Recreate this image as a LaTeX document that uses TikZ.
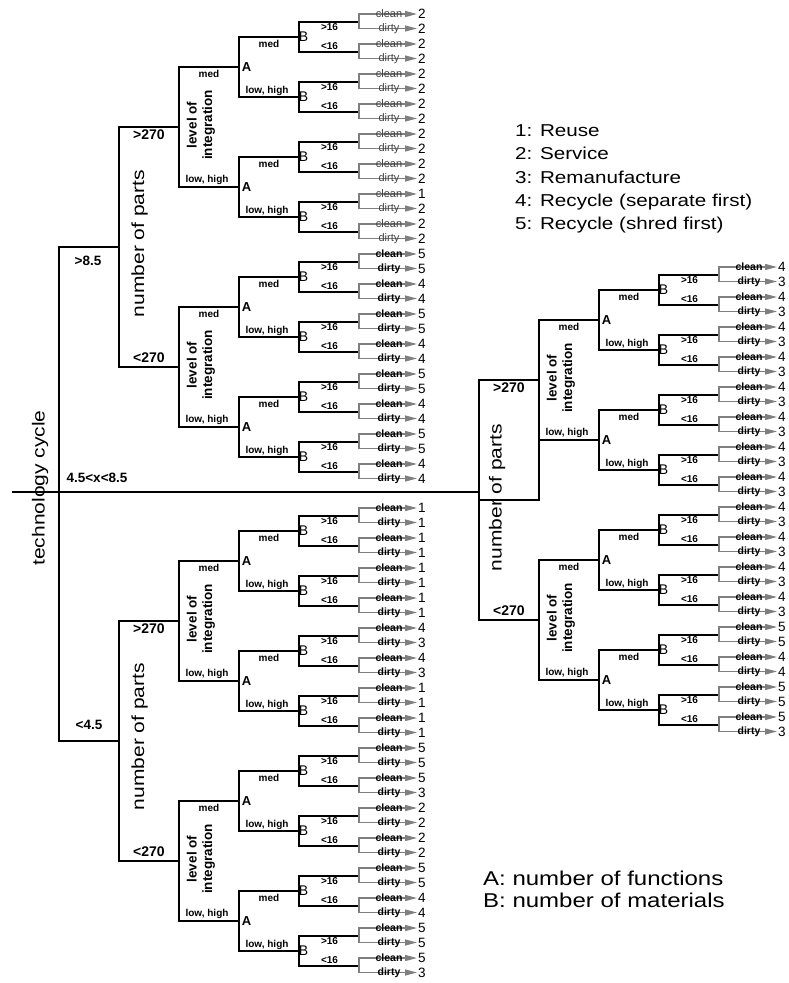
\documentclass[tikz,border=0pt]{standalone}
\usepackage{fontspec}
\setmainfont{Liberation Sans}
\newfontfamily\widefont[FakeStretch=1.2]{Liberation Sans}
\usetikzlibrary{arrows.meta}
\definecolor{leafgray}{HTML}{7F7F7F}
\tikzset{
  tree/.style={line width=1.9pt, draw=black},
  leafline/.style={line width=1.3pt, draw=leafgray, -{Triangle[length=12pt,width=6pt,fill=leafgray]}},
  nplbl/.style={inner sep=0pt, font=\bfseries\fontsize{14}{16}\selectfont},
  rootlbl/.style={inner sep=0pt, font=\bfseries\fontsize{13.5}{15}\selectfont},
  loilbl/.style={inner sep=0pt, rotate=90, align=center, font=\bfseries\fontsize{13.5}{15.5}\selectfont},
  smlbl/.style={inner sep=0pt, font=\bfseries\fontsize{10}{11}\selectfont},
  albl/.style={inner sep=0pt, font=\bfseries\fontsize{13}{14}\selectfont},
  blbl/.style={inner sep=0pt, font=\fontsize{14}{15}\selectfont},
  leafbold/.style={inner sep=0pt, anchor=base, font=\bfseries\fontsize{10.5}{12}\selectfont},
  leaflight/.style={inner sep=0pt, anchor=base, text=black!75, font=\fontsize{11}{12}\selectfont},
  numlbl/.style={inner sep=0pt, anchor=base west, font=\fontsize{13.5}{14}\selectfont},
  bigtxt/.style={inner sep=0pt, font=\widefont\fontsize{17.5}{20}\selectfont},
  legtxt/.style={inner sep=0pt, anchor=base west, font=\widefont\fontsize{17.2}{20}\selectfont},
  legbtxt/.style={inner sep=0pt, anchor=base west, font=\widefont\fontsize{20}{22}\selectfont},
}
% #1 prefix, #2 x0, #3 y0, #4 leaf values, #5 style upper half, #6 style lower half
\newcommand{\drawNP}[6]{%
 \coordinate (#1) at (#2,#3);
 \foreach \a in {0,1}{%
  \pgfmathsetmacro{\ya}{#3+(2*\a-1)*120}%
  \coordinate (#1\a) at (#2+60,\ya);
  \draw[tree] (#1) |- (#1\a);
  \ifnum\a=0
    \node[nplbl] (#1\a-t) at (#2+30,\ya+8) {>270};
    \def\lsty{#5}%
  \else
    \node[nplbl] (#1\a-t) at (#2+30,\ya-9) {<270};
    \def\lsty{#6}%
  \fi
  \node[loilbl] (#1\a-L) at (#2+82,\ya-2) {level of\\integration};
  \foreach \b in {0,1}{%
   \pgfmathsetmacro{\yb}{\ya+(2*\b-1)*60}%
   \coordinate (#1\a\b) at (#2+120,\yb);
   \draw[tree] (#1\a) |- (#1\a\b);
   \ifnum\b=0
     \node[smlbl] (#1\a\b-t) at (#2+90,\yb+7) {med};
   \else
     \node[smlbl] (#1\a\b-t) at (#2+88,\yb-7.5) {low, high};
   \fi
   \node[albl] (#1\a\b-A) at (#2+127.5,\yb) {A};
   \foreach \c in {0,1}{%
    \pgfmathsetmacro{\yc}{\yb+(2*\c-1)*30}%
    \coordinate (#1\a\b\c) at (#2+180,\yc);
    \draw[tree] (#1\a\b) |- (#1\a\b\c);
    \ifnum\c=0
      \node[smlbl] (#1\a\b\c-t) at (#2+150,\yc+7) {med};
    \else
      \node[smlbl] (#1\a\b\c-t) at (#2+148,\yc-6.5) {low, high};
    \fi
    \node[blbl] (#1\a\b\c-B) at (#2+184.5,\yc) {B};
    \foreach \d in {0,1}{%
     \pgfmathsetmacro{\yd}{\yc+(2*\d-1)*15}%
     \coordinate (#1\a\b\c\d) at (#2+240,\yd);
     \draw[tree] (#1\a\b\c) |- (#1\a\b\c\d);
     \ifnum\d=0
       \node[smlbl] (#1\a\b\c\d-t) at (#2+210.5,\yd+5.5) {>16};
     \else
       \node[smlbl] (#1\a\b\c\d-t) at (#2+210.5,\yd-6) {<16};
     \fi
     \pgfmathtruncatemacro{\idx}{16*\a+8*\b+4*\c+2*\d}%
     \pgfmathtruncatemacro{\vc}{#4[\idx]}%
     \pgfmathtruncatemacro{\vd}{#4[\idx+1]}%
     \coordinate (#1\a\b\c\d-c) at (#2+298,\yd-8);
     \coordinate (#1\a\b\c\d-d) at (#2+298,\yd+6.5);
     \draw[leafline] (#1\a\b\c\d) |- (#1\a\b\c\d-c);
     \draw[leafline] (#1\a\b\c\d) |- (#1\a\b\c\d-d);
     \node[\lsty] (#1\a\b\c\d-ct) at (#2+270,\yd-8+3) {clean};
     \node[\lsty] (#1\a\b\c\d-dt) at (#2+270,\yd+6.5+3) {dirty};
     \node[numlbl] (#1\a\b\c\d-cn) at (#2+299,\yd-8+4.8) {\vc};
     \node[numlbl] (#1\a\b\c\d-dn) at (#2+299,\yd+6.5+4.8) {\vd};
    }%
   }%
  }%
 }%
}
\begin{document}
\begin{tikzpicture}[x=1pt,y=-1pt]
\useasboundingbox (0,0) rectangle (788,983);
% root
\coordinate (root) at (12,492);
\coordinate (tc) at (59,492);
\coordinate (Rin) at (479,492);
\drawNP{T}{119}{247}{{2,2,2,2,2,2,2,2,2,2,2,2,1,2,2,2,5,5,4,4,5,5,4,4,5,5,4,4,5,5,4,4}}{leaflight}{leafbold}
\drawNP{D}{119}{741}{{1,1,1,1,1,1,1,1,4,3,4,3,1,1,1,1,5,5,5,3,2,2,2,2,5,5,4,4,5,5,5,3}}{leafbold}{leafbold}
\drawNP{R}{479}{500}{{4,3,4,3,4,3,4,3,4,3,4,3,4,3,4,3,4,3,4,3,4,3,4,3,5,5,4,4,5,5,5,3}}{leafbold}{leafbold}
\draw[tree] (root) -- (Rin);
\draw[tree] (tc) |- (T);
\draw[tree] (tc) |- (D);
\draw[tree] (R0) |- (R) |- (R1);
% root labels
\node[bigtxt, rotate=90] (tclbl) at (40,488) {technology cycle};
\node[rootlbl] (l85) at (88,261) {>8.5};
\node[rootlbl] (lmid) at (97,478) {4.5<x<8.5};
\node[rootlbl] (l45) at (89,725) {<4.5};
\node[bigtxt, rotate=90] (npT) at (139.5,243.5) {number of parts};
\node[bigtxt, rotate=90] (npD) at (139.5,736.5) {number of parts};
\node[bigtxt, rotate=90] (npR) at (497,497.5) {number of parts};
% legends
\node[legtxt] (lg1) at (515,136.7) {1: Reuse};
\node[legtxt] (lg2) at (515,159.9) {2: Service};
\node[legtxt] (lg3) at (515,183.1) {3: Remanufacture};
\node[legtxt] (lg4) at (515,206.3) {4: Recycle (separate first)};
\node[legtxt] (lg5) at (515,229.5) {5: Recycle (shred first)};
\node[legbtxt] (lgA) at (483,885) {A: number of functions};
\node[legbtxt] (lgB) at (483,907) {B: number of materials};
\end{tikzpicture}
\end{document}
